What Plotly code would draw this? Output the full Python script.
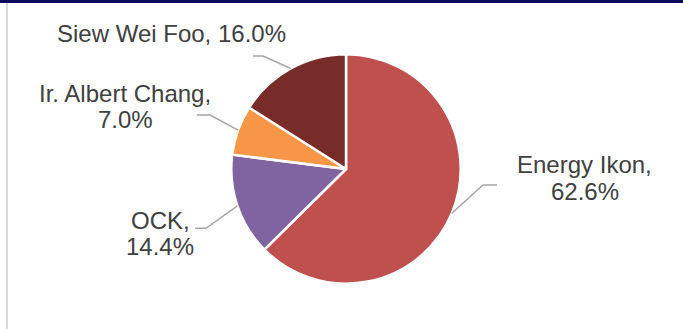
import math
import plotly.graph_objects as go

# ---- data ----
labels = ["Energy Ikon", "OCK", "Ir. Albert Chang", "Siew Wei Foo"]
values = [62.6, 14.4, 7.0, 16.0]
colors = ["#C0504D", "#8064A2", "#F79646", "#772C2A"]

# ---- layout constants (pixels) ----
W, H = 683, 329
CX, CY, R = 346, 169, 114.7
FONT = "Liberation Sans, Arial, sans-serif"
TXT = "#404040"
FS = 24

# label placement per slice: text lines centre x, line centre ys, leader end (label side), elbow
label_layout = {
    "Energy Ikon":      dict(x=584.5, ys=[164, 191.5], split=True,  end=(497, 185), elbow=(483, 185)),
    "OCK":              dict(x=160, ys=[220, 246.5], split=True,  end=(195, 228.3), elbow=(206, 228.3)),
    "Ir. Albert Chang": dict(x=125, ys=[93.8, 119.8], split=True, end=(197, 115), elbow=(210, 115)),
    "Siew Wei Foo":     dict(x=171.5, ys=[33.7], split=False,      end=(253, 56), elbow=(263, 56)),
}


def px(x):
    return x / W


def py(y):
    return 1 - y / H


fig = go.Figure(
    go.Pie(
        labels=labels,
        values=values,
        sort=False,
        direction="clockwise",
        rotation=0,
        marker=dict(colors=colors, line=dict(color="white", width=2.5)),
        textinfo="none",
        hoverinfo="label+percent",
        showlegend=False,
        domain=dict(x=[px(CX - R), px(CX + R)], y=[py(CY + R), py(CY - R)]),
    )
)

shapes = []
annotations = []
total = sum(values)
cum = 0.0
for lab, val in zip(labels, values):
    mid = (cum + val / 2) / total * 2 * math.pi
    cum += val
    ax = CX + R * math.sin(mid)
    ay = CY - R * math.cos(mid)
    cfg = label_layout[lab]
    (ex, ey), (bx, by) = cfg["end"], cfg["elbow"]
    path = f"M {px(ex)},{py(ey)} L {px(bx)},{py(by)} L {px(ax)},{py(ay)}"
    shapes.append(dict(type="path", xref="paper", yref="paper", path=path,
                       line=dict(color="#A6A6A6", width=1.5)))
    pct = f"{val:.1f}%"
    lines = [f"{lab},", pct] if cfg["split"] else [f"{lab}, {pct}"]
    for t, yy in zip(lines, cfg["ys"]):
        annotations.append(dict(text=t, x=px(cfg["x"]), y=py(yy), xref="paper", yref="paper",
                                xanchor="center", yanchor="middle", showarrow=False,
                                font=dict(family=FONT, size=FS, color=TXT)))

# top title band (cut off) and left border
shapes.append(dict(type="rect", xref="paper", yref="paper", x0=0, x1=1, y0=py(3), y1=1,
                   fillcolor="#0A0A5E", line=dict(width=0), layer="above"))
shapes.append(dict(type="line", xref="paper", yref="paper", x0=px(7), x1=px(7), y0=0, y1=py(3),
                   line=dict(color="#D9D9D9", width=2)))

fig.update_layout(
    width=W, height=H,
    margin=dict(l=0, r=0, t=0, b=0),
    paper_bgcolor="white", plot_bgcolor="white",
    shapes=shapes, annotations=annotations,
)

fig.write_html("out.html")
